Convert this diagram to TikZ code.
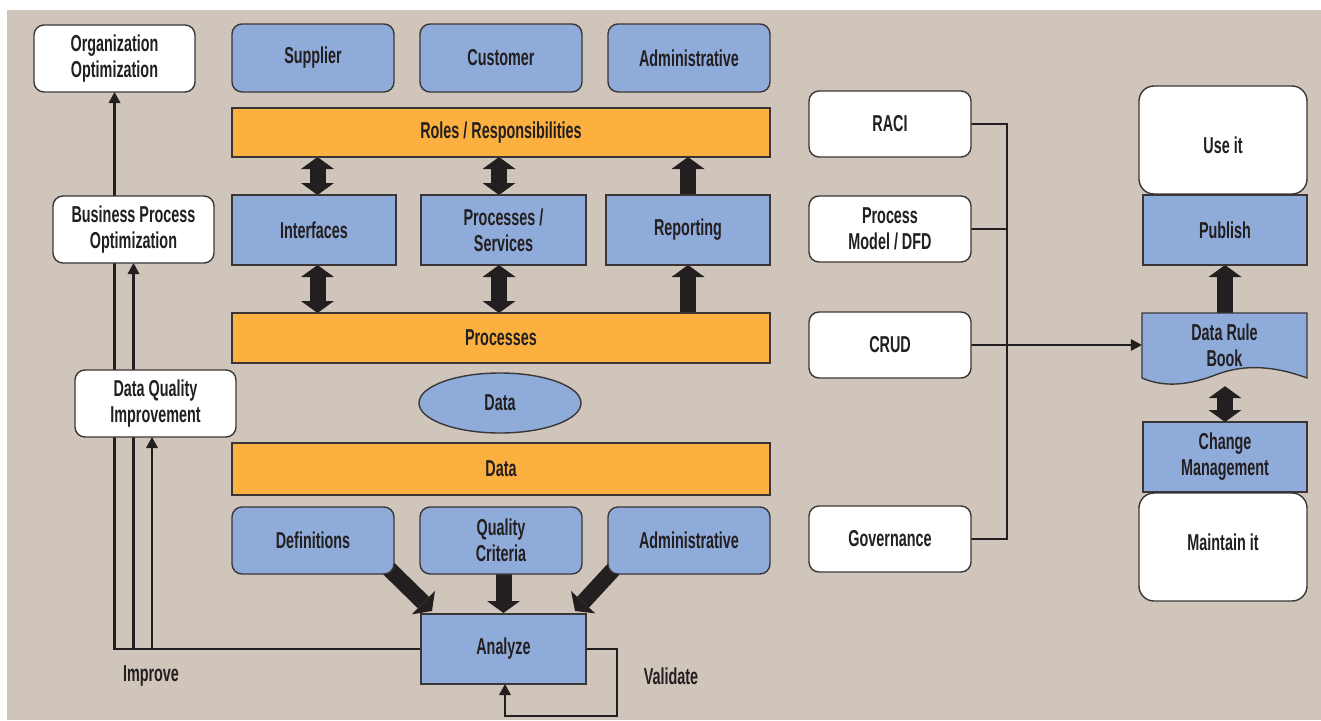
\documentclass[tikz,border=0pt]{standalone}
\usepackage{fontspec}
\setmainfont{Liberation Sans}[FakeStretch=0.625]
\usetikzlibrary{arrows.meta,calc,shapes.geometric}
\pgfdeclarelayer{bgl}
\pgfdeclarelayer{lines}
\pgfsetlayers{bgl,lines,main}
\definecolor{bgc}{HTML}{CFC5BA}
\definecolor{boxblue}{HTML}{8FABD9}
\definecolor{barorange}{HTML}{FBB040}
\definecolor{ink}{HTML}{231F20}
\definecolor{edge}{HTML}{3A3637}
\tikzset{
 base/.style={draw=edge, line width=1.4pt, inner sep=0pt, outer sep=0pt, align=center, text=ink, font=\fontsize{23}{26}\selectfont\bfseries},
 bluebox/.style={base, fill=boxblue},
 bluer/.style={bluebox, rounded corners=10pt},
 wbox/.style={base, fill=white, rounded corners=10pt},
 bigw/.style={base, fill=white, rounded corners=15pt},
 bar/.style={base, fill=barorange},
 lbl/.style={inner sep=0pt, text=ink, font=\fontsize{23}{26}\selectfont\bfseries},
 thin/.style={draw=ink, line width=2.2pt},
 thinarr/.style={thin, -{Triangle[length=11pt,width=12pt,line width=0pt]}},
 blk/.style={draw=ink, line width=16pt, -{Triangle[length=12pt,width=33pt,line width=0pt]}},
 dblk/.style={draw=ink, line width=16pt, {Triangle[length=12pt,width=33pt,line width=0pt]}-{Triangle[length=12pt,width=33pt,line width=0pt]}},
}
\begin{document}
\begin{tikzpicture}[x=1pt,y=-1pt]
\useasboundingbox (0,0) rectangle (1321,720);
\begin{pgfonlayer}{bgl}
\fill[white] (0,0) rectangle (1321,720);
\fill[bgc] (7,10) rectangle (1321,720);
\end{pgfonlayer}

% left column
\node[wbox, minimum width=161pt, minimum height=67pt] (oo) at (114.5,58.5) {Organization\\Optimization};
\node[wbox, minimum width=161pt, minimum height=67pt] (bpo) at (133.5,229.5) {Business Process\\Optimization};
\node[wbox, minimum width=161pt, minimum height=67pt] (dqi) at (155.5,403.5) {Data Quality\\Improvement};

% top row
\node[bluer, minimum width=162pt, minimum height=68pt] (sup) at (313,58) {Supplier};
\node[bluer, minimum width=162pt, minimum height=68pt] (cus) at (501,58) {Customer};
\node[bluer, minimum width=162pt, minimum height=68pt] (adm1) at (689,58) {Administrative};

\node[bar, minimum width=538pt, minimum height=49pt] (roles) at (501,132.5) {Roles / Responsibilities};
\node[bluebox, minimum width=164pt, minimum height=70pt] (intf) at (314,230) {Interfaces};
\node[bluebox, minimum width=165pt, minimum height=70pt] (ps) at (503.5,230) {Processes /\\Services};
\node[bluebox, minimum width=164pt, minimum height=70pt] (rep) at (688,230) {Reporting};
\node[bar, minimum width=538pt, minimum height=50pt] (proc) at (501,338) {Processes};
\node[base, fill=boxblue, ellipse, minimum width=162pt, minimum height=60pt] (dataell) at (500,403) {Data};
\node[bar, minimum width=538pt, minimum height=52pt] (databar) at (501,469) {Data};

\node[bluer, minimum width=162pt, minimum height=67pt] (def) at (313,540.5) {Definitions};
\node[bluer, minimum width=162pt, minimum height=67pt] (qc) at (501,540.5) {Quality\\Criteria};
\node[bluer, minimum width=162pt, minimum height=67pt] (adm2) at (689,540.5) {Administrative};
\node[bluebox, minimum width=165pt, minimum height=70pt] (ana) at (503.5,649) {Analyze};

\node[lbl] (improve) at (151,676) {Improve};
\node[lbl] (validate) at (671,676) {Validate};

% middle-right column
\node[wbox, minimum width=162pt, minimum height=66pt] (raci) at (890,124) {RACI};
\node[wbox, minimum width=162pt, minimum height=66pt] (pm) at (890,229) {Process\\Model / DFD};
\node[wbox, minimum width=162pt, minimum height=66pt] (crud) at (890,345) {CRUD};
\node[wbox, minimum width=162pt, minimum height=66pt] (gov) at (890,539) {Governance};

% right column
\node[bigw, minimum width=168pt, minimum height=108pt] (use) at (1223,140) {\raisebox{-5pt}[\height][\depth]{Use it}};
\node[bluebox, minimum width=164pt, minimum height=70pt] (pub) at (1225,230) {Publish};
\fill[boxblue] (1142,313) -- (1307,313) -- (1307,378) .. controls (1275,366) and (1245,364) .. (1218,374) .. controls (1190,385) and (1165,388) .. (1142,378) -- cycle;
\draw[edge, line width=1.4pt] (1142,313) -- (1307,313) -- (1307,378) .. controls (1275,366) and (1245,364) .. (1218,374) .. controls (1190,385) and (1165,388) .. (1142,378) -- cycle;
\node[lbl, align=center, minimum width=165pt, minimum height=65pt] (drb) at (1224.5,345.5) {Data Rule\\Book};
\node[bigw, minimum width=168pt, minimum height=108pt] (mai) at (1223,547) {\raisebox{5pt}[\height][\depth]{Maintain it}};
\node[bluebox, minimum width=164pt, minimum height=70pt] (cm) at (1225,457) {Change\\Management};

\begin{pgfonlayer}{lines}
% improve lines
\draw[thinarr] (ana.west) -| (oo.south);
\draw[thinarr] (ana.west) -| (bpo.south);
\draw[thinarr] (ana.west) -| ($(dqi.south)+(-3.5,0)$);
% validate loop
\coordinate (vl) at (617,716);
\draw[thinarr] (ana.east) -| (vl) -| ($(ana.south)+(1.5,0)$);
% bus
\coordinate (bus) at (1007,0);
\draw[thin] (raci.east) -- (raci.east -| bus) -- (gov.east -| bus) -- (gov.east);
\draw[thin] (pm.east) -- (pm.east -| bus);
\draw[thinarr] (crud.east) -- (crud.east -| drb.west);
% block arrows
\coordinate (a1) at ($(intf.north)+(3.5,0)$);
\coordinate (a2) at ($(ps.north)+(-4.5,0)$);
\draw[dblk] (roles.south -| a1) -- (a1);
\draw[dblk] (roles.south -| a2) -- (a2);
\draw[blk] (rep.north) -- (roles.south -| rep.north);
\draw[dblk] (intf.south -| a1) -- (proc.north -| a1);
\draw[dblk] (ps.south -| a2) -- (proc.north -| a2);
\draw[blk] (proc.north -| rep.south) -- (rep.south);
\draw[blk] ($(def.south east)+(-14,-14)$) -- ($(ana.north west)+(11,-3)$);
\draw[blk] (qc.south -| ana.north) -- ($(ana.north)+(0,-1)$);
\draw[blk] ($(adm2.south west)+(14,-14)$) -- ($(ana.north east)+(-11,-3)$);
\draw[blk] (drb.north -| pub.south) -- (pub.south);
\draw[dblk] ($(drb.south -| cm.north)+(0,8)$) -- (cm.north);
\end{pgfonlayer}
\end{tikzpicture}
\end{document}
